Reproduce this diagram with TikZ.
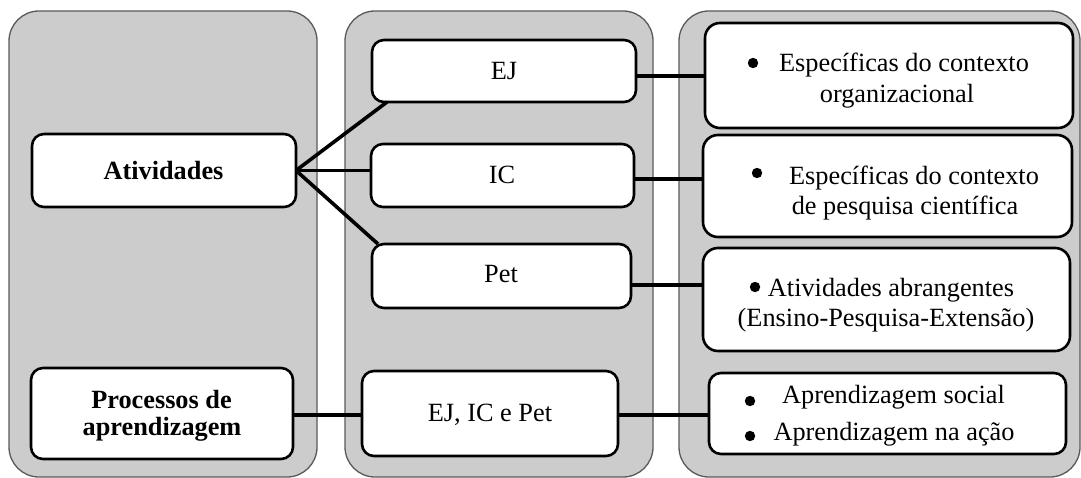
\documentclass[tikz,border=0pt]{standalone}
\usepackage{fontspec}
\setmainfont{Liberation Serif}
\begin{document}
\begin{tikzpicture}[x=1pt,y=-1pt,
  panel/.style={draw=black!65, line width=1.3pt, fill=black!20, rounded corners=30pt},
  box/.style={draw=black, line width=2.6pt, fill=white, rounded corners=12pt,
              inner sep=0pt, outer sep=0pt},
  txt/.style={anchor=base, inner sep=0pt, font=\fontsize{26.3}{31}\selectfont},
  btxt/.style={anchor=base, inner sep=0pt, font=\fontsize{26.3}{31}\selectfont\bfseries},
  link/.style={line width=3.6pt},
  dot/.style={fill=black}]
\useasboundingbox (0,0) rectangle (1081,478);

% three background columns
\draw[panel] (9,11) rectangle (317,477);
\draw[panel] (345,11) rectangle (653,477);
\draw[panel] (679,11) rectangle (1080,477);

% left column
\node[box, minimum width=264pt, minimum height=73pt] (ativ) at (164,170.5) {};
\node[box, minimum width=262pt, minimum height=91pt] (proc) at (162,413.5) {};
% middle column
\node[box, minimum width=264pt, minimum height=62pt] (ej) at (504,71) {};
\node[box, minimum width=263pt, minimum height=63pt] (ic) at (502.5,175.5) {};
\node[box, minimum width=259pt, minimum height=64pt] (pet) at (501.5,276) {};
\node[box, minimum width=256pt, minimum height=85pt] (all) at (490,413.5) {};
% right column
\node[box, rounded corners=15pt, minimum width=368pt, minimum height=105pt] (r1) at (889,75.5) {};
\node[box, rounded corners=15pt, minimum width=369pt, minimum height=102pt] (r2) at (887.5,186) {};
\node[box, rounded corners=15pt, minimum width=367pt, minimum height=103pt] (r3) at (886.5,299.5) {};
\node[box, rounded corners=12pt, minimum width=357pt, minimum height=81pt] (r4) at (887.5,413.5) {};

% labels
\node[btxt] (t-ativ) at (163.5,180) {Atividades};
\node[btxt] (t-proc1) at (161.5,408) {Processos de};
\node[btxt] (t-proc2) at (162,435) {aprendizagem};
\node[txt] (t-ej) at (504,80) {EJ};
\node[txt] (t-ic) at (502,184) {IC};
\node[txt] (t-pet) at (501,283) {Pet};
\node[txt] (t-all) at (490,421) {EJ, IC e Pet};

\node[txt] (t-r1a) at (904,72) {Específicas do contexto};
\node[txt] (t-r1b) at (897,103) {organizacional};
\node[txt] (t-r2a) at (914,185) {Específicas do contexto};
\node[txt] (t-r2b) at (905,215) {de pesquisa científica};
\node[txt] (t-r3a) at (891,296) {Atividades abrangentes};
\node[txt] (t-r3b) at (886,326) {(Ensino-Pesquisa-Extensão)};
\node[txt] (t-r4a) at (893.5,403) {Aprendizagem social};
\node[txt] (t-r4b) at (894,440) {Aprendizagem na ação};

% bullets
\fill[dot] (753,63) circle (5.2pt);
\fill[dot] (757,173) circle (5.2pt);
\fill[dot] (755,287) circle (5.2pt);
\fill[dot] (750,401) circle (5.2pt);
\fill[dot] (750,436) circle (5.2pt);

% connectors
\draw[link] (ativ.east) -- ([xshift=15pt]ej.south west);
\draw[link] (ativ.east) -- (ativ.east -| ic.west);
\draw[link] (ativ.east) -- ([xshift=6pt]pet.north west);
\draw[link] (ej.east |- 0,76) -- (r1.west |- 0,76);
\draw[link] (ic.east |- 0,179) -- (r2.west |- 0,179);
\draw[link] (pet.east |- 0,285) -- (r3.west |- 0,285);
\draw[link] (proc.east |- 0,415) -- (all.west |- 0,415);
\draw[link] (all.east |- 0,415) -- (r4.west |- 0,415);
\end{tikzpicture}
\end{document}
